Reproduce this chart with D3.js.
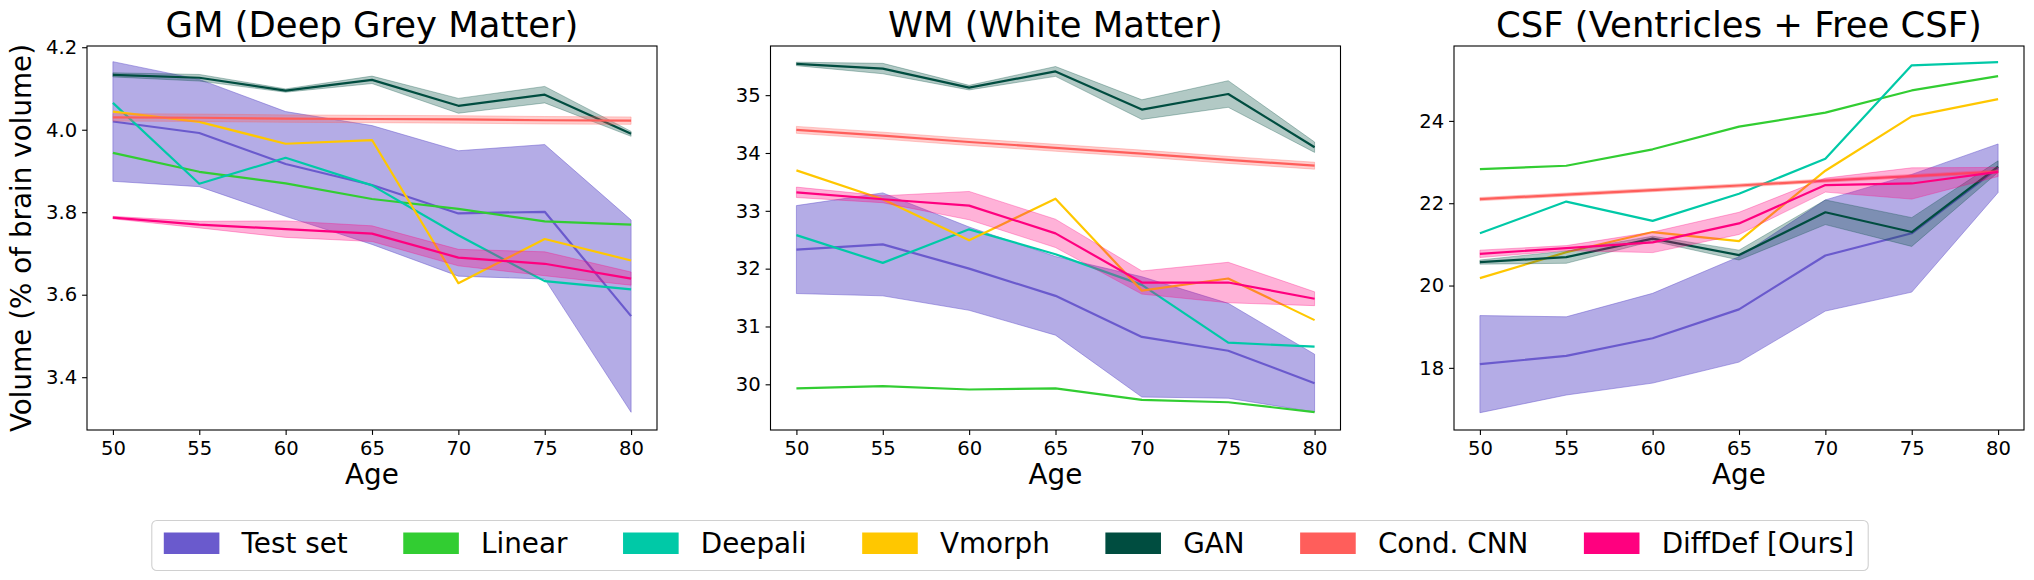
<!DOCTYPE html>
<html>
<head>
<meta charset="utf-8">
<script src="https://cdn.jsdelivr.net/npm/d3@7"></script>
<style>
  body { margin: 0; background: #fff; }
  text { font-family: "DejaVu Sans", sans-serif; fill: #000; }
</style>
</head>
<body>
<svg id="chart" width="2034" height="580"></svg>
<script>
// ages on the x axis
const ages = [50, 55, 60, 65, 70, 75, 80];
const methods = ['Test set', 'Linear', 'Deepali', 'Vmorph', 'GAN', 'Cond. CNN', 'DiffDef [Ours]'];
const methodColors = ['#6a5acd', '#32cd32', '#00c9a7', '#ffc700', '#004d40', '#ff5e5b', '#ff007f'];
const bandOpacity = [0.5, 0, 0, 0, 0.3, 0.3, 0.3];

// GM (deep grey matter) - mean and std
const gmTest = [4.020, 3.992, 3.917, 3.866, 3.797, 3.801, 3.548];
const gmTestStd = [0.145, 0.130, 0.127, 0.144, 0.152, 0.163, 0.233];
const gmLinear = [3.944, 3.898, 3.870, 3.832, 3.808, 3.778, 3.770];
const gmDeepali = [4.065, 3.869, 3.932, 3.865, 3.744, 3.633, 3.613];
const gmVmorph = [4.044, 4.019, 3.966, 3.975, 3.628, 3.735, 3.683];
const gmGAN = [4.133, 4.126, 4.095, 4.121, 4.058, 4.085, 3.990];
const gmGANStd = [0.005, 0.008, 0.004, 0.009, 0.018, 0.020, 0.006];
const gmCNN = [4.030, 4.029, 4.027, 4.026, 4.025, 4.023, 4.022];
const gmCNNStd = [0.009, 0.009, 0.009, 0.009, 0.009, 0.009, 0.009];
const gmDiffDef = [3.787, 3.770, 3.759, 3.748, 3.690, 3.675, 3.639];
const gmDiffDefStd = [0.003, 0.008, 0.020, 0.019, 0.020, 0.029, 0.016];

// WM (white matter)
const wmTest = [32.33, 32.42, 32.00, 31.53, 30.82, 30.58, 30.02];
const wmTestStd = [0.76, 0.89, 0.72, 0.68, 1.04, 0.82, 0.50];
const wmLinear = [29.93, 29.97, 29.91, 29.93, 29.73, 29.69, 29.52];
const wmDeepali = [32.58, 32.10, 32.68, 32.25, 31.72, 30.72, 30.65];
const wmVmorph = [33.70, 33.20, 32.49, 33.21, 31.62, 31.83, 31.11];
const wmGAN = [35.54, 35.46, 35.13, 35.41, 34.75, 35.02, 34.10];
const wmGANStd = [0.03, 0.09, 0.04, 0.085, 0.17, 0.23, 0.09];
const wmCNN = [34.40, 34.30, 34.19, 34.09, 33.99, 33.88, 33.78];
const wmCNNStd = [0.06, 0.06, 0.06, 0.06, 0.06, 0.06, 0.06];
const wmDiffDef = [33.32, 33.20, 33.09, 32.61, 31.76, 31.76, 31.48];
const wmDiffDefStd = [0.09, 0.06, 0.245, 0.245, 0.20, 0.35, 0.12];

// CSF (ventricles + free CSF)
const csfTest = [18.09, 18.29, 18.72, 19.42, 20.73, 21.27, 22.85];
const csfTestStd = [1.18, 0.95, 1.09, 1.28, 1.35, 1.43, 0.59];
const csfLinear = [22.83, 22.91, 23.31, 23.86, 24.20, 24.74, 25.09];
const csfDeepali = [21.27, 22.04, 21.57, 22.23, 23.08, 25.35, 25.43];
const csfVmorph = [20.18, 20.81, 21.30, 21.08, 22.79, 24.11, 24.53];
const csfGAN = [20.57, 20.69, 21.14, 20.74, 21.78, 21.30, 22.89];
const csfGANStd = [0.05, 0.15, 0.06, 0.12, 0.30, 0.35, 0.14];
const csfCNN = [22.10, 22.21, 22.32, 22.43, 22.55, 22.66, 22.77];
const csfCNNStd = [0.04, 0.04, 0.04, 0.04, 0.04, 0.04, 0.04];
const csfDiffDef = [20.77, 20.91, 21.05, 21.51, 22.44, 22.48, 22.76];
const csfDiffDefStd = [0.09, 0.06, 0.25, 0.27, 0.17, 0.38, 0.11];

// tick labels
const gmTicks = [3.4, 3.6, 3.8, 4.0, 4.2];
const wmTicks = [30, 31, 32, 33, 34, 35];
const csfTicks = [18, 20, 22, 24];

const panels = [
    {title: 'GM (Deep Grey Matter)', left: 87, yDom: [3.272, 4.203], ticks: gmTicks, fmt: '.1f',
     mean: [gmTest, gmLinear, gmDeepali, gmVmorph, gmGAN, gmCNN, gmDiffDef],
     std: [gmTestStd, null, null, null, gmGANStd, gmCNNStd, gmDiffDefStd]},
    {title: 'WM (White Matter)', left: 770.5, yDom: [29.21, 35.85], ticks: wmTicks, fmt: 'd',
     mean: [wmTest, wmLinear, wmDeepali, wmVmorph, wmGAN, wmCNN, wmDiffDef],
     std: [wmTestStd, null, null, null, wmGANStd, wmCNNStd, wmDiffDefStd]},
    {title: 'CSF (Ventricles + Free CSF)', left: 1454, yDom: [16.49, 25.82], ticks: csfTicks, fmt: 'd',
     mean: [csfTest, csfLinear, csfDeepali, csfVmorph, csfGAN, csfCNN, csfDiffDef],
     std: [csfTestStd, null, null, null, csfGANStd, csfCNNStd, csfDiffDefStd]}
];

const svg = d3.select('#chart');
svg.append('rect').attr('width', 2034).attr('height', 580).attr('fill', '#fff');

// axes box
let margT = 46;
let plotH = 384;
let plotW = 570;

panels.forEach(function(p, pi){
    let g = svg.append('g').attr('transform', 'translate(' + p.left + ',' + margT + ')');

    let xScale = d3.scaleLinear().domain([48.5, 81.5]).range([0, plotW]);
    let yScale = d3.scaleLinear().domain(p.yDom).range([plotH, 0]);

    let plot = g.append('g');
    methods.forEach(function(m, mi){
        let pts = ages.map(function(a, i){
            return {age: a, v: p.mean[mi][i], s: p.std[mi] ? p.std[mi][i] : 0};
        });
        // std band
        if (p.std[mi]) {
            let area = d3.area()
                .x(d => xScale(d.age))
                .y0(d => yScale(d.v - d.s))
                .y1(d => yScale(d.v + d.s));
            plot.append('path')
                .datum(pts)
                .attr('d', area)
                .attr('fill', methodColors[mi])
                .attr('fill-opacity', bandOpacity[mi])
                .attr('stroke', methodColors[mi])
                .attr('stroke-opacity', bandOpacity[mi])
                .attr('stroke-width', 1);
        }
        let line = d3.line()
            .x(d => xScale(d.age))
            .y(d => yScale(d.v));
        plot.append('path')
            .datum(pts)
            .attr('d', line)
            .attr('fill', 'none')
            .attr('stroke', methodColors[mi])
            .attr('stroke-width', 2.2)
            .attr('stroke-linejoin', 'round');
    });

    // x axis
    let xAxis = g.append('g')
        .attr('transform', 'translate(0,' + plotH + ')')
        .call(d3.axisBottom(xScale).tickValues(ages).tickSize(4.9).tickPadding(6.5));
    // y axis
    let yAxis = g.append('g')
        .call(d3.axisLeft(yScale).tickValues(p.ticks).tickFormat(d3.format(p.fmt)).tickSize(4.9).tickPadding(5));
    [xAxis, yAxis].forEach(function(ax){
        ax.select('.domain').remove();
        ax.selectAll('line').attr('stroke', '#000').attr('stroke-width', 1.1);
        ax.selectAll('text')
            .style('font-family', '"DejaVu Sans", sans-serif')
            .style('font-size', '19.6px')
            .attr('fill', '#000');
    });

    // frame
    g.append('rect')
        .attr('width', plotW).attr('height', plotH)
        .attr('fill', 'none').attr('stroke', '#000').attr('stroke-width', 1.1);

    // title and x label
    g.append('text')
        .attr('x', plotW / 2).attr('y', -9)
        .attr('text-anchor', 'middle')
        .style('font-size', '35.4px')
        .text(p.title);
    g.append('text')
        .attr('x', plotW / 2).attr('y', 484 - margT)
        .attr('text-anchor', 'middle')
        .style('font-size', '27.8px')
        .text('Age');

    if (pi == 0) {
        g.append('text')
            .attr('transform', 'translate(' + (31 - p.left) + ',' + (plotH / 2) + ') rotate(-90)')
            .attr('text-anchor', 'middle')
            .style('font-size', '27.8px')
            .text('Volume (% of brain volume)');
    }
});

// legend
let legend = svg.append('g');
let legBox = legend.append('rect');
let swW = 55.6, swH = 21.5, textPad = 22.2, colGap = 55.6, fs = 27.8;
let xPos = 0;
methods.forEach(function(m, mi){
    legend.append('rect')
        .attr('x', xPos).attr('y', 532.5)
        .attr('width', swW).attr('height', swH)
        .attr('fill', methodColors[mi]);
    let t = legend.append('text')
        .attr('x', xPos + swW + textPad).attr('y', 552.5)
        .style('font-size', fs + 'px')
        .text(m);
    xPos += swW + textPad + t.node().getComputedTextLength() + colGap;
});
let innerW = xPos - colGap;
let boxL = -12, boxR = innerW + 14;
legBox.attr('x', boxL).attr('y', 520.5)
    .attr('width', boxR - boxL).attr('height', 50)
    .attr('rx', 5).attr('ry', 5)
    .attr('fill', '#fff').attr('stroke', '#d0d0d0').attr('stroke-width', 1.1);
let shift = 1010 - (boxL + boxR) / 2;
legend.attr('transform', 'translate(' + shift + ',0)');
</script>
</body>
</html>
